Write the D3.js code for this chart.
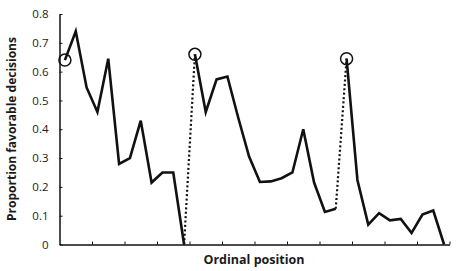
<html>
<script src="https://d3js.org/d3.v7.min.js"></script>
<style>
  body { margin: 0; background: #fff; }
  text { font-family: "Open Sans", "Liberation Sans", sans-serif; fill: #1a1a1a; }
</style>
<body>
<svg width="468" height="271"></svg>
<script>
// three sessions of decisions, ordinal position index 0..35
var session1 = [0.64, 0.74, 0.545, 0.46, 0.645, 0.28, 0.30, 0.43, 0.215, 0.25, 0.25, 0.0];
var session2 = [0.66, 0.46, 0.573, 0.583, 0.44, 0.305, 0.217, 0.219, 0.23, 0.25, 0.40, 0.215, 0.113, 0.124];
var session3 = [0.645, 0.224, 0.069, 0.109, 0.084, 0.089, 0.04, 0.104, 0.118, 0.0];
var yTicks = [0, 0.1, 0.2, 0.3, 0.4, 0.5, 0.6, 0.7, 0.8];
var xTicks = [0, 3, 6, 9, 12, 15, 18, 21, 24, 27, 30, 33, 36];

var sessions = [session1, session2, session3];
var start = 0;
var series = sessions.map(function(s) {
  var pts = s.map(function(v, j) { return {i: start + j, v: v}; });
  start += s.length;
  return pts;
});

var x = d3.scaleLinear().domain([0, 36]).range([59.5, 449.5]);
var y = d3.scaleLinear().domain([0, 0.8]).range([244.5, 14]);
var svg = d3.select("svg");

var line = d3.line()
  .x(function(d) { return x(d.i + 0.5); })
  .y(function(d) { return y(d.v); });

// dotted jumps between sessions
for (var k = 0; k < series.length - 1; k++) {
  var a = series[k][series[k].length - 1], b = series[k + 1][0];
  svg.append("path").attr("d", line([a, b]))
    .attr("fill", "none").attr("stroke", "#111")
    .attr("stroke-width", 2.2).attr("stroke-dasharray", "2,2.4");
}

series.forEach(function(s) {
  svg.append("path").attr("d", line(s))
    .attr("fill", "none").attr("stroke", "#111")
    .attr("stroke-width", 2.6).attr("stroke-linejoin", "miter");
  svg.append("circle")
    .attr("cx", x(s[0].i + 0.5)).attr("cy", y(s[0].v)).attr("r", 6)
    .attr("fill", "none").attr("stroke", "#111").attr("stroke-width", 1.5);
});

// axes
var yAxis = d3.axisLeft(y).tickValues(yTicks).tickSizeInner(-3).tickSizeOuter(0)
  .tickPadding(11).tickFormat(function(d) { return d === 0 ? "0" : d3.format(".1f")(d); });
var gy = svg.append("g").attr("transform", "translate(" + x(0) + ",0)").call(yAxis);
gy.select(".domain").attr("stroke", "#111").attr("stroke-width", 1.5);
gy.selectAll(".tick line").attr("stroke", "#111");
gy.selectAll("text").style("font-size", "11.5px");

var xAxis = d3.axisBottom(x).tickValues(xTicks).tickSizeInner(-3).tickSizeOuter(0).tickFormat("");
var gx = svg.append("g").attr("transform", "translate(0," + y(0) + ")").call(xAxis);
gx.select(".domain").attr("stroke", "#111").attr("stroke-width", 1.5);
gx.selectAll(".tick line").attr("stroke", "#111");
gx.selectAll(".tick").filter(function(d) { return d === 0; }).remove();

svg.append("text").attr("x", 254).attr("y", 264)
  .attr("text-anchor", "middle").attr("font-weight", "bold")
  .style("font-size", "12.5px").text("Ordinal position");

svg.append("text").attr("transform", "translate(16,129) rotate(-90)")
  .attr("text-anchor", "middle").attr("font-weight", "bold")
  .style("font-size", "12px").text("Proportion favorable decisions");
</script>
</body>
</html>
